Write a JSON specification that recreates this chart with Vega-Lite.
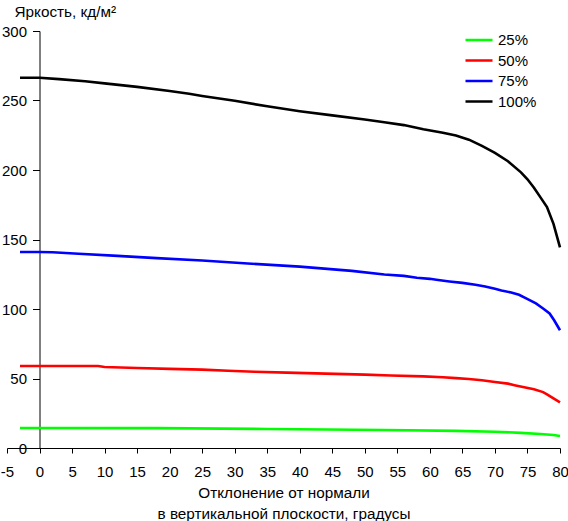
{
  "$schema": "https://vega.github.io/schema/vega-lite/v6.json",
  "width": 553,
  "height": 417,
  "autosize": "none",
  "padding": {"left": 7, "top": 31, "right": 8, "bottom": 73},
  "background": "white",
  "config": {
    "view": {"stroke": null},
    "font": "Liberation Sans",
    "axis": {
      "grid": false,
      "domainColor": "black",
      "tickColor": "black",
      "labelColor": "black",
      "titleColor": "black",
      "labelFont": "Liberation Sans",
      "titleFont": "Liberation Sans",
      "labelFontSize": 15,
      "titleFontSize": 15.3,
      "titleFontWeight": "normal",
      "domainWidth": 1,
      "tickWidth": 1
    },
    "legend": {
      "labelFont": "Liberation Sans",
      "labelFontSize": 15,
      "labelColor": "black"
    }
  },
  "data": {
    "values": [
      {"angle": -3, "value": 14.4, "level": "25%"},
      {"angle": 18, "value": 14.3, "level": "25%"},
      {"angle": 35, "value": 13.7, "level": "25%"},
      {"angle": 53, "value": 12.9, "level": "25%"},
      {"angle": 64, "value": 12.3, "level": "25%"},
      {"angle": 70, "value": 11.7, "level": "25%"},
      {"angle": 74, "value": 10.9, "level": "25%"},
      {"angle": 77, "value": 10.1, "level": "25%"},
      {"angle": 79, "value": 9.3, "level": "25%"},
      {"angle": 80, "value": 8.6, "level": "25%"},

      {"angle": -3, "value": 59.0, "level": "50%"},
      {"angle": 0, "value": 59.0, "level": "50%"},
      {"angle": 9, "value": 59.0, "level": "50%"},
      {"angle": 10, "value": 58.3, "level": "50%"},
      {"angle": 15, "value": 57.6, "level": "50%"},
      {"angle": 20, "value": 56.9, "level": "50%"},
      {"angle": 25, "value": 56.4, "level": "50%"},
      {"angle": 29, "value": 55.6, "level": "50%"},
      {"angle": 33, "value": 54.9, "level": "50%"},
      {"angle": 38, "value": 54.2, "level": "50%"},
      {"angle": 44, "value": 53.5, "level": "50%"},
      {"angle": 50, "value": 52.8, "level": "50%"},
      {"angle": 54, "value": 52.2, "level": "50%"},
      {"angle": 59, "value": 51.5, "level": "50%"},
      {"angle": 62, "value": 50.9, "level": "50%"},
      {"angle": 64, "value": 50.3, "level": "50%"},
      {"angle": 66, "value": 49.6, "level": "50%"},
      {"angle": 68, "value": 48.7, "level": "50%"},
      {"angle": 70, "value": 47.5, "level": "50%"},
      {"angle": 72, "value": 46.3, "level": "50%"},
      {"angle": 73, "value": 45.2, "level": "50%"},
      {"angle": 74.5, "value": 43.7, "level": "50%"},
      {"angle": 76, "value": 42.2, "level": "50%"},
      {"angle": 77.4, "value": 40.2, "level": "50%"},
      {"angle": 78, "value": 38.6, "level": "50%"},
      {"angle": 79, "value": 35.7, "level": "50%"},
      {"angle": 80, "value": 32.9, "level": "50%"},

      {"angle": -3, "value": 141.0, "level": "75%"},
      {"angle": 0, "value": 141.0, "level": "75%"},
      {"angle": 2, "value": 140.8, "level": "75%"},
      {"angle": 6, "value": 139.7, "level": "75%"},
      {"angle": 12, "value": 138.2, "level": "75%"},
      {"angle": 18, "value": 136.6, "level": "75%"},
      {"angle": 25, "value": 134.9, "level": "75%"},
      {"angle": 32, "value": 132.7, "level": "75%"},
      {"angle": 40, "value": 130.5, "level": "75%"},
      {"angle": 48, "value": 127.4, "level": "75%"},
      {"angle": 53, "value": 124.8, "level": "75%"},
      {"angle": 56, "value": 123.8, "level": "75%"},
      {"angle": 58, "value": 122.5, "level": "75%"},
      {"angle": 60, "value": 121.7, "level": "75%"},
      {"angle": 61, "value": 121.0, "level": "75%"},
      {"angle": 63, "value": 119.8, "level": "75%"},
      {"angle": 65, "value": 118.8, "level": "75%"},
      {"angle": 67, "value": 117.5, "level": "75%"},
      {"angle": 68.5, "value": 116.2, "level": "75%"},
      {"angle": 70, "value": 114.5, "level": "75%"},
      {"angle": 71, "value": 113.3, "level": "75%"},
      {"angle": 72.5, "value": 111.9, "level": "75%"},
      {"angle": 73.7, "value": 110.2, "level": "75%"},
      {"angle": 74.8, "value": 107.6, "level": "75%"},
      {"angle": 76.3, "value": 104.0, "level": "75%"},
      {"angle": 77.4, "value": 100.4, "level": "75%"},
      {"angle": 78.4, "value": 96.8, "level": "75%"},
      {"angle": 79.1, "value": 91.9, "level": "75%"},
      {"angle": 80, "value": 84.7, "level": "75%"},

      {"angle": -3, "value": 266.4, "level": "100%"},
      {"angle": 0, "value": 266.4, "level": "100%"},
      {"angle": 3, "value": 265.4, "level": "100%"},
      {"angle": 7, "value": 263.8, "level": "100%"},
      {"angle": 10, "value": 262.3, "level": "100%"},
      {"angle": 15, "value": 259.8, "level": "100%"},
      {"angle": 20, "value": 256.8, "level": "100%"},
      {"angle": 23, "value": 254.8, "level": "100%"},
      {"angle": 25, "value": 253.3, "level": "100%"},
      {"angle": 30, "value": 249.8, "level": "100%"},
      {"angle": 35, "value": 245.8, "level": "100%"},
      {"angle": 40, "value": 242.3, "level": "100%"},
      {"angle": 45, "value": 239.3, "level": "100%"},
      {"angle": 50, "value": 236.3, "level": "100%"},
      {"angle": 53, "value": 234.3, "level": "100%"},
      {"angle": 56, "value": 232.3, "level": "100%"},
      {"angle": 59, "value": 229.3, "level": "100%"},
      {"angle": 62, "value": 226.8, "level": "100%"},
      {"angle": 64, "value": 224.8, "level": "100%"},
      {"angle": 66, "value": 221.8, "level": "100%"},
      {"angle": 68, "value": 217.3, "level": "100%"},
      {"angle": 70, "value": 212.3, "level": "100%"},
      {"angle": 72, "value": 206.3, "level": "100%"},
      {"angle": 74, "value": 198.3, "level": "100%"},
      {"angle": 75, "value": 193.3, "level": "100%"},
      {"angle": 76, "value": 187.3, "level": "100%"},
      {"angle": 77, "value": 180.3, "level": "100%"},
      {"angle": 78, "value": 173.3, "level": "100%"},
      {"angle": 79, "value": 161.3, "level": "100%"},
      {"angle": 80, "value": 144.3, "level": "100%"}
    ]
  },
  "mark": {"type": "line", "strokeWidth": 2.6, "interpolate": "linear"},
  "encoding": {
    "x": {
      "field": "angle",
      "type": "quantitative",
      "scale": {"domain": [-5, 80], "nice": false, "zero": false},
      "axis": {
        "values": [-5, 0, 5, 10, 15, 20, 25, 30, 35, 40, 45, 50, 55, 60, 65, 70, 75, 80],
        "labelExpr": "replace(datum.label, '−', '-')",
        "title": ["Отклонение от нормали", "в вертикальной плоскости, градусы"],
        "titleBaseline": "alphabetic",
        "titleY": 49,
        "titleLineHeight": 21.5,
        "tickSize": 5,
        "labelBaseline": "alphabetic",
        "labelPadding": 23,
        "labelFlush": false,
        "labelOverlap": false
      }
    },
    "y": {
      "field": "value",
      "type": "quantitative",
      "scale": {"domain": [0, 300], "nice": false},
      "axis": {
        "values": [0, 50, 100, 150, 200, 250, 300],
        "offset": -32.5,
        "tickSize": 7,
        "labelPadding": 6,
        "title": "Яркость, кд/м²",
        "titleAngle": 0,
        "titleAlign": "left",
        "titleBaseline": "alphabetic",
        "titleX": -25.5,
        "titleY": -15
      }
    },
    "color": {
      "field": "level",
      "type": "nominal",
      "sort": ["25%", "50%", "75%", "100%"],
      "scale": {
        "domain": ["25%", "50%", "75%", "100%"],
        "range": ["#00ff00", "#ff0000", "#0000ff", "#000000"]
      },
      "legend": {
        "title": null,
        "orient": "none",
        "legendX": 457,
        "legendY": -1,
        "padding": 0,
        "symbolType": "stroke",
        "symbolSize": 729,
        "symbolStrokeWidth": 2.6,
        "labelOffset": 4,
        "clipHeight": 20,
        "rowPadding": 0.5
      }
    }
  }
}
